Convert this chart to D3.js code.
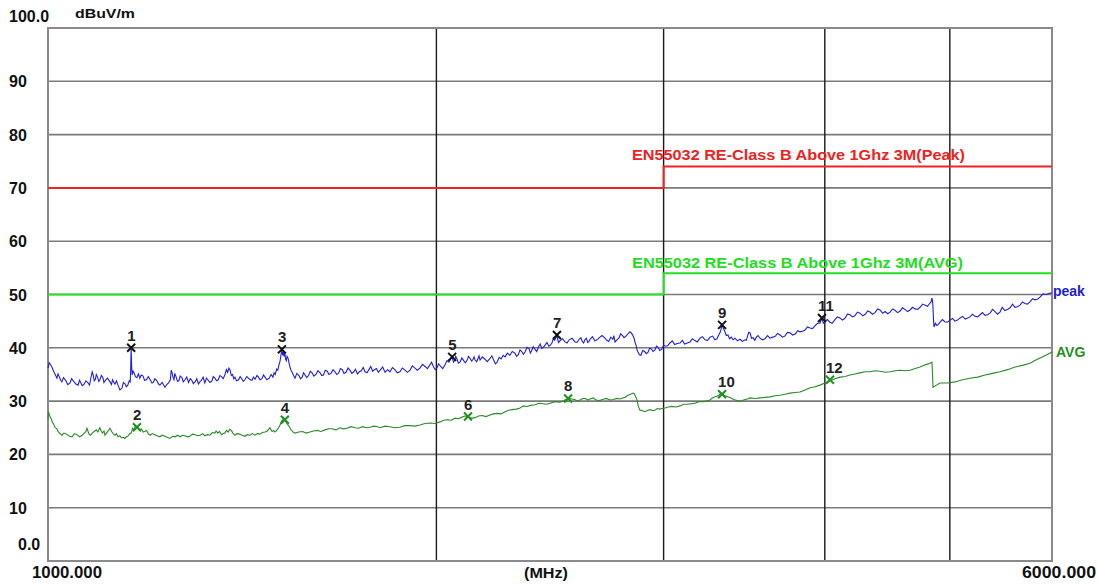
<!DOCTYPE html>
<html>
<head>
<meta charset="utf-8">
<script src="https://cdn.jsdelivr.net/npm/d3@7"></script>
<style>
  html, body { margin: 0; padding: 0; background: #fff; }
  svg text { font-family: 'Liberation Sans', Arial, sans-serif; font-weight: bold; }
</style>
</head>
<body>
<div id="chart"></div>
<script>
/** Axis ticks and labels **/
const yTicks = [0, 10, 20, 30, 40, 50, 60, 70, 80, 90, 100];
const yTickLabels = ['0.0', '10', '20', '30', '40', '50', '60', '70', '80', '90', '100.0'];
const xGridFreqs = [2000, 3000, 4000, 5000];
const xLabels = ['1000.000', '(MHz)', '6000.000'];
const unitLabel = 'dBuV/m';

/** Limit lines (EN55032 class B, 3 m) **/
const limitFreqs = [1000, 3000, 3000, 6000];
const peakLimit = [70, 70, 74, 74];
const avgLimit = [50, 50, 54, 54];
const peakLimitName = 'EN55032 RE-Class B Above 1Ghz 3M(Peak)';
const avgLimitName = 'EN55032 RE-Class B Above 1Ghz 3M(AVG)';

/** Measured traces: [MHz, dBuV/m] **/
const peakTrace = [
  [1000, 36.2], [1002, 37.2], [1004, 36.9], [1007, 36.4], [1010, 35.6], [1013, 35.0], [1016, 34.3],
  [1018, 35.1], [1020, 34.6], [1023, 33.9], [1025, 33.6], [1028, 34.4], [1032, 33.9], [1036, 33.1],
  [1040, 33.4], [1043, 34.2], [1047, 33.7], [1051, 33.2], [1055, 33.0], [1058, 33.9], [1060, 33.5],
  [1063, 32.9], [1066, 33.1], [1070, 33.8], [1074, 33.4], [1077, 33.0], [1079, 34.1], [1082, 35.5],
  [1084, 34.9], [1086, 33.8], [1088, 34.0], [1090, 35.0], [1092, 34.6], [1095, 33.7], [1097, 34.0],
  [1100, 34.8], [1103, 34.4], [1105, 33.5], [1107, 33.8], [1112, 34.3], [1117, 33.6], [1120, 33.1],
  [1122, 34.0], [1125, 33.5], [1127, 33.2], [1130, 33.8], [1133, 33.0], [1137, 32.1], [1141, 32.4],
  [1144, 33.5], [1147, 33.3], [1150, 32.7], [1153, 33.0], [1156, 33.8], [1158, 33.6], [1159, 36.0],
  [1160, 40.0], [1161, 36.5], [1162, 34.9], [1164, 35.6], [1166, 35.3], [1169, 34.6], [1172, 34.4],
  [1175, 35.1], [1178, 34.3], [1181, 34.9], [1185, 34.7], [1188, 33.9], [1192, 34.0], [1196, 34.6],
  [1200, 34.0], [1204, 33.4], [1207, 33.5], [1210, 34.2], [1214, 33.9], [1218, 33.2], [1221, 33.0],
  [1226, 33.5], [1232, 32.6], [1236, 33.1], [1240, 33.4], [1244, 34.0], [1246, 35.8], [1248, 35.3],
  [1250, 34.4], [1252, 34.0], [1254, 35.2], [1257, 34.5], [1260, 33.7], [1263, 33.8], [1266, 34.7],
  [1270, 34.4], [1273, 33.6], [1277, 34.0], [1281, 34.5], [1285, 33.5], [1289, 34.2], [1292, 34.0],
  [1296, 33.3], [1300, 33.6], [1304, 34.2], [1308, 33.2], [1312, 33.7], [1315, 33.9], [1319, 34.5],
  [1323, 33.4], [1327, 34.3], [1330, 34.0], [1335, 33.5], [1340, 33.8], [1343, 34.6], [1347, 34.3],
  [1351, 33.8], [1355, 34.0], [1359, 34.8], [1363, 34.6], [1367, 34.2], [1371, 34.9], [1375, 35.9],
  [1378, 35.4], [1381, 36.2], [1384, 35.8], [1387, 34.8], [1390, 35.0], [1393, 34.2], [1396, 34.5],
  [1400, 33.8], [1405, 34.0], [1409, 34.6], [1413, 34.2], [1417, 33.7], [1421, 34.0], [1426, 34.6],
  [1430, 34.3], [1435, 34.0], [1439, 33.9], [1443, 34.5], [1447, 34.1], [1452, 34.8], [1456, 34.5],
  [1460, 34.0], [1465, 34.2], [1469, 34.9], [1473, 34.5], [1478, 34.0], [1484, 34.3], [1489, 35.0],
  [1494, 34.5], [1497, 35.3], [1500, 35.0], [1504, 36.0], [1507, 35.8], [1510, 36.8], [1513, 37.5],
  [1516, 38.8], [1518, 39.8], [1520, 38.6], [1522, 39.2], [1524, 38.4], [1526, 39.0], [1528, 37.9],
  [1530, 37.6], [1532, 38.4], [1535, 38.0], [1538, 37.0], [1540, 36.4], [1543, 35.8], [1546, 35.4],
  [1550, 34.8], [1554, 34.3], [1559, 35.2], [1565, 34.8], [1569, 34.2], [1574, 34.5], [1578, 35.3],
  [1582, 34.9], [1587, 34.4], [1592, 34.8], [1597, 35.6], [1602, 35.3], [1607, 34.7], [1613, 35.0],
  [1619, 35.7], [1625, 35.3], [1630, 34.8], [1635, 34.9], [1640, 35.8], [1646, 35.6], [1651, 35.0],
  [1657, 35.2], [1663, 35.9], [1669, 35.5], [1674, 35.0], [1680, 35.3], [1685, 36.1], [1691, 35.9],
  [1696, 35.2], [1702, 35.4], [1708, 36.2], [1714, 35.8], [1720, 35.2], [1726, 35.5], [1731, 36.0],
  [1737, 35.1], [1743, 35.5], [1749, 35.7], [1755, 36.3], [1761, 35.5], [1767, 35.3], [1773, 35.9],
  [1779, 36.5], [1785, 35.6], [1791, 35.9], [1797, 36.1], [1803, 35.4], [1809, 35.8], [1817, 36.4],
  [1825, 35.4], [1833, 35.9], [1841, 35.5], [1849, 36.3], [1857, 35.9], [1865, 35.3], [1874, 35.5],
  [1882, 36.2], [1891, 35.8], [1899, 35.4], [1908, 35.8], [1916, 36.6], [1925, 36.2], [1933, 35.8],
  [1942, 36.2], [1951, 36.9], [1960, 36.5], [1968, 36.1], [1977, 36.8], [1983, 37.3], [1990, 36.4],
  [1996, 35.9], [2002, 36.2], [2008, 37.0], [2015, 36.5], [2023, 36.1], [2031, 36.8], [2038, 37.6],
  [2045, 37.3], [2051, 37.8], [2057, 38.3], [2062, 37.3], [2066, 37.6], [2070, 38.4], [2075, 37.9],
  [2080, 37.1], [2086, 37.3], [2093, 38.1], [2100, 37.6], [2106, 37.2], [2112, 37.6], [2118, 38.4],
  [2124, 38.0], [2130, 37.5], [2135, 37.8], [2139, 38.3], [2143, 37.7], [2149, 37.4], [2155, 38.1],
  [2158, 38.5], [2162, 37.7], [2171, 38.3], [2180, 37.9], [2190, 37.4], [2201, 38.0], [2208, 38.5],
  [2215, 37.7], [2222, 37.0], [2229, 37.3], [2237, 38.2], [2245, 37.9], [2253, 38.6], [2261, 38.3],
  [2270, 39.0], [2280, 38.6], [2290, 39.3], [2301, 39.0], [2308, 38.4], [2315, 38.7], [2322, 39.6],
  [2329, 39.3], [2336, 38.8], [2343, 39.2], [2351, 40.1], [2360, 39.8], [2365, 39.0], [2370, 39.4],
  [2377, 40.2], [2385, 39.7], [2392, 39.3], [2400, 40.2], [2407, 40.7], [2414, 39.9], [2421, 40.1],
  [2428, 40.5], [2436, 41.0], [2445, 40.3], [2451, 40.5], [2458, 40.9], [2464, 41.7], [2470, 41.4],
  [2475, 41.9], [2480, 42.2], [2487, 41.0], [2495, 41.4], [2505, 41.7], [2516, 41.1], [2525, 40.9],
  [2535, 41.5], [2548, 41.8], [2561, 41.1], [2570, 41.0], [2580, 41.6], [2588, 41.9], [2595, 41.2],
  [2601, 40.9], [2607, 41.5], [2614, 41.8], [2620, 41.0], [2626, 41.2], [2631, 41.6], [2642, 42.1],
  [2654, 41.3], [2664, 41.5], [2675, 41.9], [2688, 42.3], [2702, 41.8], [2711, 41.4], [2720, 41.2],
  [2730, 42.0], [2740, 41.6], [2745, 42.3], [2751, 41.1], [2760, 41.5], [2770, 41.8], [2778, 42.6],
  [2785, 42.4], [2795, 41.9], [2805, 42.2], [2815, 42.6], [2825, 43.0], [2832, 42.8], [2840, 42.3],
  [2846, 41.8], [2851, 41.0], [2856, 40.5], [2861, 39.6], [2866, 39.2], [2873, 38.7], [2881, 38.6],
  [2890, 39.5], [2900, 39.3], [2909, 38.9], [2918, 39.2], [2926, 39.9], [2935, 39.8], [2944, 39.3],
  [2954, 39.6], [2962, 40.3], [2970, 40.1], [2980, 39.5], [2991, 39.8], [3000, 40.5], [3010, 40.3],
  [3022, 40.4], [3034, 40.9], [3047, 41.3], [3060, 40.6], [3074, 40.8], [3089, 40.9], [3102, 41.4],
  [3115, 40.7], [3130, 40.9], [3145, 41.1], [3158, 41.7], [3170, 41.4], [3186, 41.1], [3201, 41.8],
  [3215, 42.1], [3230, 41.5], [3245, 41.4], [3259, 42.0], [3274, 42.2], [3288, 41.5], [3300, 41.7],
  [3310, 42.4], [3320, 43.0], [3330, 44.3], [3338, 43.6], [3345, 43.2], [3355, 42.3], [3365, 42.4],
  [3375, 41.7], [3385, 42.0], [3396, 41.5], [3408, 41.8], [3423, 41.3], [3438, 41.6], [3453, 41.2],
  [3469, 41.5], [3477, 41.4], [3485, 42.2], [3492, 42.9], [3500, 42.8], [3510, 41.8], [3520, 41.9],
  [3530, 41.4], [3540, 42.0], [3551, 42.3], [3563, 41.8], [3579, 41.5], [3595, 41.7], [3611, 42.3],
  [3627, 41.8], [3644, 42.0], [3660, 42.1], [3676, 42.7], [3693, 42.4], [3709, 42.0], [3725, 42.2],
  [3742, 42.9], [3759, 42.8], [3777, 42.4], [3795, 42.6], [3811, 43.2], [3827, 43.0], [3843, 43.1],
  [3860, 43.3], [3878, 43.9], [3896, 43.7], [3913, 43.6], [3930, 44.1], [3948, 44.6], [3966, 44.6],
  [3973, 45.2], [3980, 45.4], [3990, 44.6], [4000, 44.9], [4018, 45.3], [4037, 44.8], [4053, 44.6],
  [4070, 45.2], [4090, 45.8], [4110, 45.6], [4127, 45.2], [4145, 45.5], [4165, 46.3], [4184, 46.2],
  [4202, 45.8], [4220, 46.0], [4240, 46.7], [4259, 46.5], [4280, 46.0], [4300, 46.3], [4318, 46.9],
  [4336, 46.7], [4355, 46.3], [4375, 46.6], [4395, 47.3], [4414, 47.1], [4435, 46.5], [4455, 46.8],
  [4475, 46.4], [4494, 46.7], [4515, 47.3], [4535, 47.0], [4555, 46.6], [4575, 46.9], [4595, 47.5],
  [4615, 47.2], [4636, 46.8], [4657, 47.1], [4678, 47.6], [4700, 47.3], [4720, 47.2], [4741, 47.6],
  [4763, 48.2], [4785, 48.0], [4805, 47.8], [4826, 48.4], [4835, 48.6], [4843, 49.3], [4848, 48.8],
  [4852, 47.5], [4857, 45.0], [4861, 43.9], [4873, 44.6], [4885, 44.2], [4899, 44.4], [4913, 44.8],
  [4934, 45.3], [4955, 44.9], [4978, 44.8], [5002, 45.2], [5024, 45.5], [5046, 45.0], [5069, 45.2],
  [5092, 45.6], [5116, 45.9], [5140, 45.4], [5162, 45.6], [5183, 45.8], [5206, 46.3], [5230, 45.9],
  [5254, 45.8], [5277, 46.2], [5300, 46.6], [5324, 46.1], [5348, 46.2], [5372, 46.5], [5396, 47.2],
  [5420, 46.8], [5444, 46.3], [5468, 46.7], [5490, 47.6], [5515, 47.0], [5541, 47.2], [5567, 47.5],
  [5592, 48.2], [5617, 47.6], [5642, 47.7], [5667, 48.0], [5692, 48.6], [5717, 48.3], [5743, 48.2],
  [5769, 48.6], [5795, 49.2], [5820, 49.0], [5846, 49.1], [5873, 49.5], [5905, 50.1], [5935, 50.0],
  [5967, 50.2], [6000, 50.3]
];

const avgTrace = [
  [1000, 26.5], [1001, 28.0], [1002, 27.6], [1004, 27.0], [1006, 26.6], [1008, 26.0], [1010, 25.7],
  [1013, 25.0], [1016, 24.8], [1018, 24.3], [1021, 24.0], [1025, 23.6], [1029, 24.0], [1034, 23.8],
  [1039, 23.4], [1044, 23.3], [1048, 23.9], [1053, 23.7], [1058, 23.3], [1063, 23.6], [1066, 23.9],
  [1070, 24.3], [1072, 24.9], [1076, 23.8], [1079, 23.6], [1082, 24.0], [1086, 24.3], [1090, 24.6],
  [1093, 24.2], [1097, 25.0], [1099, 24.5], [1102, 24.0], [1105, 24.4], [1107, 23.6], [1110, 24.0],
  [1114, 24.5], [1117, 24.9], [1121, 24.2], [1124, 23.8], [1127, 23.6], [1130, 23.9], [1133, 23.3],
  [1137, 23.5], [1140, 23.1], [1144, 23.2], [1147, 23.0], [1150, 23.3], [1153, 23.4], [1157, 23.9],
  [1160, 24.0], [1163, 24.9], [1166, 24.6], [1169, 25.4], [1172, 25.1], [1175, 24.9], [1178, 24.6],
  [1181, 24.8], [1185, 24.2], [1188, 24.3], [1192, 24.5], [1196, 23.9], [1200, 23.6], [1205, 23.9],
  [1210, 23.7], [1215, 23.5], [1221, 23.3], [1226, 23.6], [1232, 23.4], [1237, 23.2], [1243, 23.0],
  [1249, 23.4], [1255, 23.3], [1260, 23.6], [1266, 23.3], [1271, 23.6], [1277, 23.5], [1282, 23.3],
  [1288, 23.4], [1294, 23.8], [1300, 23.7], [1306, 23.5], [1312, 23.6], [1318, 23.9], [1323, 23.5],
  [1329, 23.7], [1335, 23.6], [1341, 24.1], [1347, 24.0], [1350, 24.4], [1354, 24.0], [1358, 24.3],
  [1363, 23.7], [1367, 23.9], [1371, 24.0], [1375, 24.5], [1379, 24.2], [1383, 24.7], [1387, 24.5],
  [1391, 24.0], [1396, 23.6], [1402, 23.9], [1408, 23.8], [1414, 23.6], [1421, 23.4], [1427, 23.7],
  [1434, 23.6], [1440, 23.9], [1447, 23.6], [1453, 23.9], [1460, 23.8], [1466, 24.1], [1473, 24.2],
  [1479, 24.4], [1486, 25.0], [1489, 24.6], [1492, 24.3], [1496, 24.5], [1499, 24.2], [1503, 24.4],
  [1507, 24.8], [1510, 25.1], [1513, 25.5], [1517, 26.2], [1520, 26.5], [1523, 26.9], [1526, 26.3],
  [1529, 26.1], [1532, 25.8], [1536, 25.4], [1540, 25.0], [1543, 24.6], [1546, 24.4], [1550, 24.1],
  [1554, 24.0], [1564, 24.2], [1575, 24.3], [1585, 24.0], [1596, 24.2], [1606, 24.4], [1617, 24.5],
  [1628, 24.3], [1639, 24.6], [1650, 24.8], [1660, 24.8], [1672, 24.6], [1684, 25.0], [1694, 24.8],
  [1705, 24.9], [1717, 25.2], [1730, 25.0], [1741, 24.9], [1753, 25.2], [1765, 25.0], [1777, 25.1],
  [1788, 25.3], [1800, 25.2], [1809, 25.0], [1825, 25.3], [1840, 25.2], [1857, 25.0], [1874, 25.1],
  [1891, 25.4], [1908, 25.4], [1925, 25.3], [1942, 25.5], [1960, 25.8], [1977, 25.9], [1995, 25.8],
  [2013, 26.1], [2026, 26.4], [2040, 26.5], [2054, 26.4], [2068, 26.8], [2080, 26.7], [2090, 26.9],
  [2103, 27.2], [2116, 27.1], [2130, 26.8], [2143, 26.9], [2156, 27.2], [2170, 27.3], [2185, 27.1],
  [2201, 27.4], [2215, 27.6], [2230, 27.7], [2245, 27.6], [2261, 28.0], [2275, 28.3], [2290, 28.4],
  [2306, 28.5], [2322, 28.7], [2336, 29.1], [2350, 29.0], [2367, 29.2], [2385, 29.3], [2402, 29.6],
  [2420, 29.5], [2435, 29.4], [2450, 29.6], [2472, 29.9], [2494, 29.8], [2512, 30.1], [2530, 30.5],
  [2545, 30.4], [2560, 30.3], [2572, 30.0], [2584, 30.2], [2597, 30.5], [2610, 30.5], [2620, 30.2],
  [2631, 30.4], [2645, 30.6], [2660, 30.2], [2675, 30.1], [2690, 30.3], [2708, 30.5], [2726, 30.2],
  [2743, 30.3], [2760, 30.5], [2775, 30.4], [2788, 30.6], [2800, 30.7], [2815, 31.1], [2828, 31.3],
  [2841, 31.5], [2847, 31.4], [2852, 31.0], [2857, 30.6], [2861, 30.2], [2868, 29.0], [2876, 28.3],
  [2889, 28.2], [2902, 28.0], [2916, 28.3], [2930, 28.4], [2942, 28.2], [2954, 28.3], [2967, 28.6],
  [2980, 28.5], [2993, 28.6], [3007, 28.7], [3026, 28.9], [3045, 29.0], [3067, 28.9], [3089, 29.1],
  [3110, 29.4], [3130, 29.4], [3151, 29.5], [3173, 29.6], [3194, 29.9], [3215, 29.9], [3237, 30.0],
  [3259, 30.2], [3273, 30.6], [3288, 30.8], [3300, 30.9], [3310, 31.1], [3320, 31.4], [3330, 31.3],
  [3347, 31.0], [3365, 30.8], [3383, 30.6], [3400, 30.3], [3420, 30.1], [3438, 30.0], [3453, 30.1],
  [3469, 30.3], [3485, 30.4], [3500, 30.6], [3531, 30.5], [3563, 30.6], [3595, 30.7], [3627, 30.8],
  [3660, 31.0], [3693, 31.1], [3726, 31.3], [3759, 31.5], [3793, 31.6], [3827, 31.7], [3862, 32.1],
  [3896, 32.5], [3931, 32.7], [3966, 33.0], [4001, 33.4], [4037, 33.8], [4073, 34.2], [4110, 34.5],
  [4147, 34.6], [4184, 34.9], [4221, 35.1], [4259, 35.3], [4297, 35.5], [4336, 35.5], [4375, 35.7],
  [4414, 35.6], [4454, 35.4], [4494, 35.5], [4535, 35.7], [4575, 35.8], [4616, 35.7], [4657, 35.8],
  [4700, 36.1], [4741, 36.4], [4784, 36.8], [4826, 37.1], [4843, 37.3], [4848, 35.0], [4852, 32.6],
  [4882, 33.0], [4913, 33.4], [4980, 33.4], [5046, 33.6], [5115, 34.0], [5183, 34.3], [5254, 34.5],
  [5324, 34.9], [5396, 35.2], [5468, 35.5], [5542, 35.9], [5617, 36.4], [5692, 36.7], [5769, 37.1],
  [5820, 37.6], [5873, 38.1], [5935, 38.6], [6000, 39.2]
];

/** Marker table **/
const markerIds = ['1', '2', '3', '4', '5', '6', '7', '8', '9', '10', '11', '12'];
const markerFreqs = [1160, 1172, 1518, 1526, 2057, 2116, 2480, 2530, 3330, 3330, 3980, 4037];
const markerLevels = [40.0, 25.1, 39.7, 26.5, 38.3, 27.1, 42.4, 30.5, 44.3, 31.3, 45.6, 34.0];

/** Sizes **/
const width = 1098;
const height = 587;
const plot = { left: 48, right: 1052, top: 28, bottom: 561 };

const svg = d3
  .select('#chart')
  .append('svg')
  .attr('width', width)
  .attr('height', height);

svg.append('rect').attr('width', width).attr('height', height).attr('fill', '#fff');

const x = d3.scaleLog().domain([1000, 6000]).range([plot.left, plot.right]);
const y = d3.scaleLinear().domain([0, 100]).range([plot.bottom, plot.top]);

/** Grid **/
svg
  .append('g')
  .selectAll('line')
  .data(yTicks.slice(1, -1))
  .join('line')
  .attr('x1', plot.left)
  .attr('x2', plot.right)
  .attr('y1', (d) => y(d))
  .attr('y2', (d) => y(d))
  .attr('stroke', '#7a7a7a')
  .attr('stroke-width', 1.6);

svg
  .append('g')
  .selectAll('line')
  .data(xGridFreqs)
  .join('line')
  .attr('x1', (d) => x(d))
  .attr('x2', (d) => x(d))
  .attr('y1', plot.top)
  .attr('y2', plot.bottom)
  .attr('stroke', '#1a1a1a')
  .attr('stroke-width', 1.4);

svg
  .append('rect')
  .attr('x', plot.left)
  .attr('y', plot.top)
  .attr('width', plot.right - plot.left)
  .attr('height', plot.bottom - plot.top)
  .attr('fill', 'none')
  .attr('stroke', '#8a8a8a')
  .attr('stroke-width', 2);

/** Y labels **/
svg
  .append('g')
  .selectAll('text')
  .data(yTicks)
  .join('text')
  .attr('x', (d) => (d === 0 ? 18 : 9))
  .attr('y', (d) => (d === 100 ? y(d) - 6 : d === 0 ? y(d) - 11 : y(d) + 6))
  .attr('font-size', 16)
  .attr('fill', '#111')
  .text((d, i) => yTickLabels[i]);

svg
  .append('text')
  .attr('x', 75)
  .attr('y', 18)
  .attr('font-size', 12)
  .attr('textLength', 60)
  .attr('lengthAdjust', 'spacingAndGlyphs')
  .attr('fill', '#111')
  .text(unitLabel);

/** X labels **/
svg
  .append('text')
  .attr('x', 32)
  .attr('y', 578)
  .attr('font-size', 16)
  .attr('textLength', 70)
  .attr('lengthAdjust', 'spacingAndGlyphs')
  .attr('fill', '#111')
  .text(xLabels[0]);

svg
  .append('text')
  .attr('x', 524)
  .attr('y', 578)
  .attr('font-size', 14)
  .attr('textLength', 44)
  .attr('lengthAdjust', 'spacingAndGlyphs')
  .attr('fill', '#111')
  .text(xLabels[1]);

svg
  .append('text')
  .attr('x', 1022)
  .attr('y', 578)
  .attr('font-size', 16)
  .attr('textLength', 74)
  .attr('lengthAdjust', 'spacingAndGlyphs')
  .attr('fill', '#111')
  .text(xLabels[2]);

/** Limit lines **/
const limitLine = (levels) =>
  d3
    .line()
    .x((d, i) => x(limitFreqs[i]))
    .y((d, i) => y(levels[i]))(levels);

svg
  .append('path')
  .attr('d', limitLine(peakLimit))
  .attr('fill', 'none')
  .attr('stroke', '#f22222')
  .attr('stroke-width', 2);

svg
  .append('path')
  .attr('d', limitLine(avgLimit))
  .attr('fill', 'none')
  .attr('stroke', '#22e022')
  .attr('stroke-width', 2);

svg
  .append('text')
  .attr('x', 632)
  .attr('y', 160)
  .attr('font-size', 14)
  .attr('textLength', 333)
  .attr('lengthAdjust', 'spacingAndGlyphs')
  .attr('fill', '#ee2222')
  .text(peakLimitName);

svg
  .append('text')
  .attr('x', 632)
  .attr('y', 268)
  .attr('font-size', 14)
  .attr('textLength', 331)
  .attr('lengthAdjust', 'spacingAndGlyphs')
  .attr('fill', '#22dd22')
  .text(avgLimitName);

/** Traces **/
const traceLine = d3
  .line()
  .x((d) => x(d[0]))
  .y((d) => y(d[1]));

svg
  .append('path')
  .attr('d', traceLine(avgTrace))
  .attr('fill', 'none')
  .attr('stroke', '#2a8a2a')
  .attr('stroke-width', 1.1);

svg
  .append('path')
  .attr('d', traceLine(peakTrace))
  .attr('fill', 'none')
  .attr('stroke', '#1f1fe0')
  .attr('stroke-width', 1.1);

const lastPeak = peakTrace[peakTrace.length - 1];
const lastAvg = avgTrace[avgTrace.length - 1];

svg
  .append('text')
  .attr('x', x(lastPeak[0]) + 1)
  .attr('y', y(lastPeak[1]) + 3)
  .attr('font-size', 14)
  .attr('fill', '#2020d8')
  .text('peak');

svg
  .append('text')
  .attr('x', x(lastAvg[0]) + 4)
  .attr('y', y(lastAvg[1]) + 5)
  .attr('font-size', 14)
  .attr('fill', '#1f8f1f')
  .text('AVG');

/** Markers **/
const markers = markerIds.map((id, i) => ({
  id,
  freq: markerFreqs[i],
  level: markerLevels[i],
  isPeak: i % 2 === 0,
}));

const mg = svg.append('g').selectAll('g').data(markers).join('g');

mg.append('path')
  .attr('d', (d) => {
    const cx = x(d.freq);
    const cy = y(d.level);
    const r = 4;
    return `M${cx - r},${cy - r}L${cx + r},${cy + r}M${cx - r},${cy + r}L${cx + r},${cy - r}`;
  })
  .attr('stroke', (d) => (d.isPeak ? '#111' : '#1f8f1f'))
  .attr('stroke-width', 2)
  .attr('fill', 'none');

mg.append('text')
  .attr('x', (d) => x(d.freq) - 4)
  .attr('y', (d) => y(d.level) - 7)
  .attr('font-size', 15)
  .attr('fill', '#222')
  .text((d) => d.id);
</script>
</body>
</html>
